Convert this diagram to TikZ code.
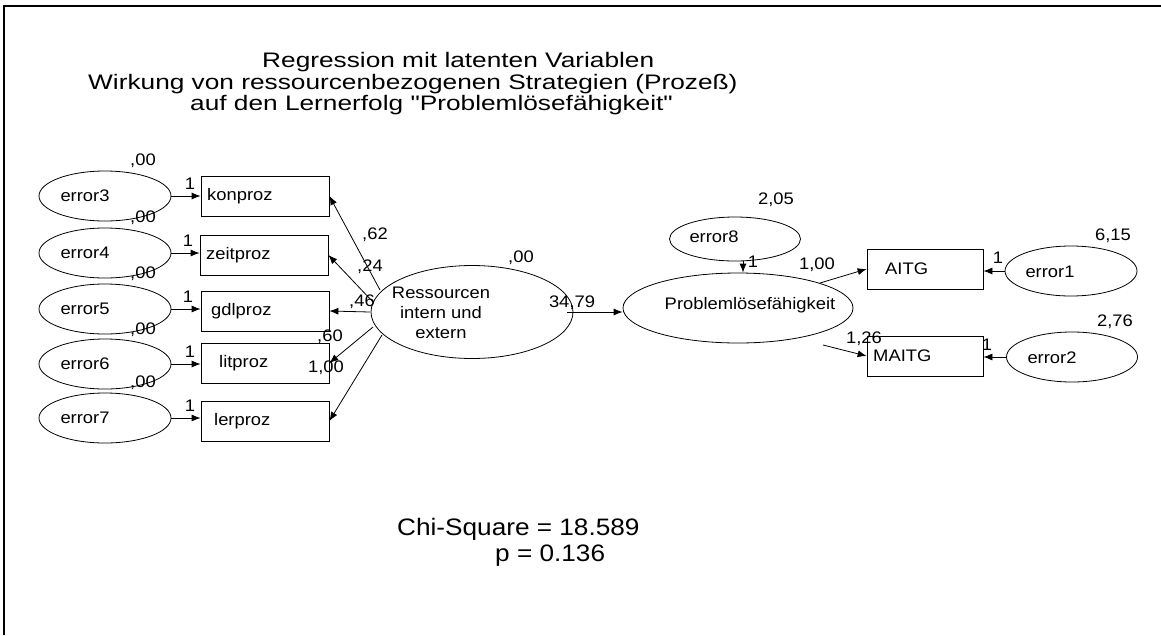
\documentclass[tikz,border=0pt]{standalone}
\usepackage{fontspec}
\setmainfont{Liberation Sans}[FakeStretch=1.1,Ligatures=TeXOff]
\newfontfamily\ttlfont{Liberation Sans}[FakeStretch=1.25,Ligatures=TeXOff]
\usetikzlibrary{shapes.geometric,arrows.meta}
\begin{document}
\begin{tikzpicture}[x=1pt,y=-1pt,
  errell/.style={ellipse,draw,line width=0.8pt,inner sep=0pt,minimum width=132pt,minimum height=50pt},
  obsbox/.style={rectangle,draw,line width=0.8pt,inner sep=0pt,minimum width=128pt,minimum height=40pt},
  txt/.style={inner sep=0pt,font=\fontsize{16.7}{19}\selectfont},
  ttl/.style={inner sep=0pt,font=\ttlfont\fontsize{21}{23}\selectfont,anchor=base west},
  fitst/.style={inner sep=0pt,font=\fontsize{23.8}{26}\selectfont,anchor=base west},
  arr/.style={-{Latex[length=9pt,width=7pt]},line width=0.8pt}]
\useasboundingbox (0,0) rectangle (1161,635);
% frame
\coordinate (fa) at (1161,6);
\coordinate (fb) at (4,6);
\coordinate (fc) at (4,635);
\draw[line width=2pt] (fa) -- (fb) -- (fc);
% title
\node[ttl] (ti1) at (262,67) {Regression mit latenten Variablen};
\node[ttl] (ti2) at (88,89) {Wirkung von ressourcenbezogenen Strategien (Prozeß)};
\node[ttl] (ti3) at (190,110) {auf den Lernerfolg "Problemlösefähigkeit"};
% error ellipses left
\node[errell] (e3) at (105,196) {};
\node[errell] (e4) at (105,253) {};
\node[errell] (e5) at (105,309) {};
\node[errell] (e6) at (105,364) {};
\node[errell] (e7) at (105,418) {};
\node[txt] (te3) at (85,196) {error3};
\node[txt] (te4) at (85,253) {error4};
\node[txt] (te5) at (85,309) {error5};
\node[txt] (te6) at (85,364) {error6};
\node[txt] (te7) at (85,418) {error7};
\node[txt] (v3) at (143,161) {,00};
\node[txt] (v4) at (143,218) {,00};
\node[txt] (v5) at (143,274) {,00};
\node[txt] (v6) at (143,330) {,00};
\node[txt] (v7) at (143,383) {,00};
% boxes left
\node[obsbox] (kon) at (265,196) {};
\node[obsbox] (zeit) at (264,255) {};
\node[obsbox] (gdl) at (265,311) {};
\node[obsbox] (lit) at (265,363) {};
\node[obsbox] (ler) at (265,421) {};
\node[txt,anchor=west] (tkon) at (207,196) {konproz};
\node[txt,anchor=west] (tzeit) at (206,255) {zeitproz};
\node[txt,anchor=west] (tgdl) at (211,311) {gdlproz};
\node[txt,anchor=west] (tlit) at (219,363) {litproz};
\node[txt,anchor=west] (tler) at (214,421) {lerproz};
% error -> box
\draw[arr] (e3.east) -- (e3.east -| kon.west);
\draw[arr] (e4.east) -- (e4.east -| zeit.west);
\draw[arr] (e5.east) -- (e5.east -| gdl.west);
\draw[arr] (e6.east) -- (e6.east -| lit.west);
\draw[arr] (e7.east) -- (e7.east -| ler.west);
\node[txt] (o3) at (190,184) {1};
\node[txt] (o4) at (188,241) {1};
\node[txt] (o5) at (188,297) {1};
\node[txt] (o6) at (190,352) {1};
\node[txt] (o7) at (190,406) {1};
% Ressourcen
\node[ellipse,draw,line width=0.8pt,inner sep=0pt,minimum width=202pt,minimum height=93pt] (res) at (472,312) {};
\node[txt,align=center,font=\fontsize{16.7}{20}\selectfont] (tres) at (441,313) {Ressourcen\\intern und\\extern};
\node[txt] (vres) at (521,258) {,00};
\draw[arr] ([shift={(-92,-22)}]res.center) -- (kon.east);
\draw[arr] ([shift={(-99,-10)}]res.center) -- (zeit.east);
\draw[arr] ([shift={(-102,0)}]res.center) -- (gdl.east);
\draw[arr] ([shift={(-99,15)}]res.center) -- (lit.east);
\draw[arr] ([shift={(-90,23)}]res.center) -- (ler.east);
\node[txt] (w1) at (375,235) {,62};
\node[txt] (w2) at (370,267) {,24};
\node[txt] (w3) at (362,302) {,46};
\node[txt] (w4) at (330,337) {,60};
\node[txt] (w5) at (326,368) {1,00};
% Problemloesefaehigkeit
\node[ellipse,draw,line width=0.8pt,inner sep=0pt,minimum width=230pt,minimum height=70pt] (prob) at (738,308) {};
\node[txt] (tprob) at (750,305) {Problemlösefähigkeit};
\draw[arr] ([xshift=-6pt]res.east) -- (res.east -| prob.west);
\node[txt] (wrp) at (572,303) {34,79};
% error8
\node[errell,minimum width=131pt,minimum height=44pt] (e8) at (735,239) {};
\node[txt] (te8) at (714,237) {error8};
\node[txt] (v8) at (776,200) {2,05};
\draw[arr] ([xshift=8pt]e8.south) -- ([xshift=8pt]e8.south |- prob.north);
\node[txt] (o8) at (753,262) {1};
% right boxes
\node[obsbox,minimum width=116pt] (aitg) at (925,269) {};
\node[obsbox,minimum width=116pt] (maitg) at (925,356) {};
\node[txt,anchor=west] (taitg) at (885,269) {AITG};
\node[txt,anchor=west] (tmaitg) at (873,356) {MAITG};
\draw[arr] ([shift={(82,-25)}]prob.center) -- (aitg.west);
\draw[arr] ([shift={(85,37)}]prob.center) -- (maitg.west);
\node[txt] (wa) at (817,265) {1,00};
\node[txt] (wm) at (864,339) {1,26};
% error1, error2
\node[errell] (e1) at (1071,271) {};
\node[errell,minimum width=131pt] (e2) at (1072,357) {};
\node[txt] (te1) at (1050,272) {error1};
\node[txt] (te2) at (1052,358) {error2};
\node[txt] (v1) at (1113,236) {6,15};
\node[txt] (v2) at (1115,322) {2,76};
\draw[arr] (e1.west) -- (e1.west -| aitg.east);
\draw[arr] (e2.west) -- (e2.west -| maitg.east);
\node[txt] (o1) at (998,258) {1};
\node[txt] (o2) at (987,345) {1};
% fit
\node[fitst] (chi) at (397,535) {Chi-Square = 18.589};
\node[fitst] (pv) at (495,561) {p = 0.136};
\end{tikzpicture}
\end{document}
